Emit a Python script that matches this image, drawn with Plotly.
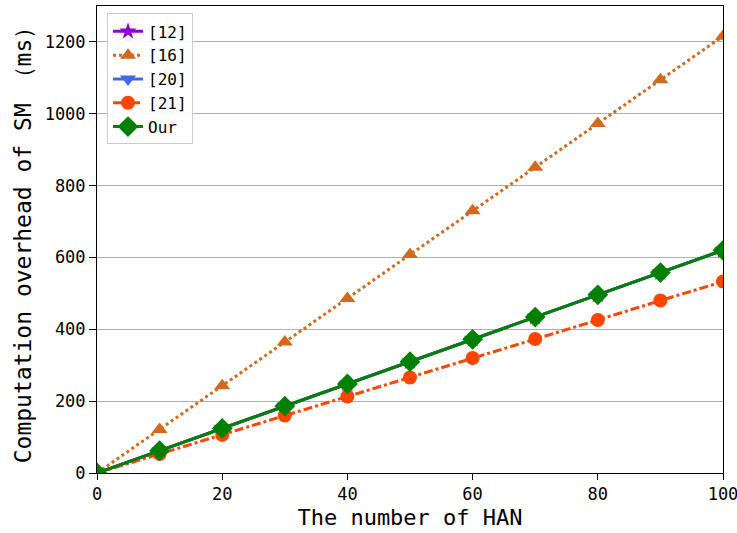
import plotly.graph_objects as go

x_han = [0, 10, 20, 30, 40, 50, 60, 70, 80, 90, 100]
ref12 = [0, 62, 124, 186, 248, 310, 372, 434, 496, 558, 620]
ref16 = [0, 121, 243, 365, 486, 608, 730, 851, 973, 1095, 1216]
ref20 = [0, 62, 124, 186, 248, 310, 372, 434, 496, 558, 620]
ref21 = [0, 53, 106, 160, 213, 266, 320, 373, 426, 480, 533]
ours = [0, 62, 124, 186, 248, 310, 372, 434, 496, 558, 620]

FONT = "DejaVu Sans Mono"

fig = go.Figure()
fig.add_trace(go.Scatter(x=x_han, y=ref12, name="[12]", mode="lines+markers",
                         line=dict(color="#9400D3", width=3),
                         marker=dict(symbol="star", size=13, color="#9400D3")))
fig.add_trace(go.Scatter(x=x_han, y=ref16, name="[16]", mode="lines+markers",
                         line=dict(color="#D2691E", width=3, dash="dot"),
                         marker=dict(symbol="triangle-up", size=14, color="#D2691E")))
fig.add_trace(go.Scatter(x=x_han, y=ref20, name="[20]", mode="lines+markers",
                         line=dict(color="#4169E1", width=3),
                         marker=dict(symbol="triangle-down", size=14, color="#4169E1")))
fig.add_trace(go.Scatter(x=x_han, y=ref21, name="[21]", mode="lines+markers",
                         line=dict(color="#FF4500", width=3, dash="dashdot"),
                         marker=dict(symbol="circle", size=14, color="#FF4500")))
fig.add_trace(go.Scatter(x=x_han, y=ours, name="Our", mode="lines+markers",
                         line=dict(color="#008000", width=3),
                         marker=dict(symbol="diamond", size=16, color="#008000")))

fig.update_layout(
    width=737, height=533,
    margin=dict(l=97, r=14, t=6, b=60),
    paper_bgcolor="white", plot_bgcolor="white",
    font=dict(family=FONT, size=17, color="black"),
    showlegend=True,
    legend=dict(x=0.016, y=0.984, xanchor="left", yanchor="top",
                bgcolor="rgba(255,255,255,0.9)", bordercolor="#cccccc", borderwidth=1,
                font=dict(family=FONT, size=16), tracegroupgap=0),
    xaxis=dict(range=[0, 100], tickvals=[0, 20, 40, 60, 80, 100],
               title=dict(text="The number of HAN", font=dict(size=22), standoff=6),
               showgrid=False, showline=True, linecolor="black", linewidth=1, mirror=True,
               ticks="outside", ticklen=6, tickcolor="black", zeroline=False,
               automargin=False, ticklabeloverflow="allow"),
    yaxis=dict(range=[0, 1300], tickvals=[0, 200, 400, 600, 800, 1000, 1200],
               title=dict(text="Computation overhead of SM （ms）", font=dict(size=23), standoff=6),
               showgrid=True, gridcolor="#b0b0b0", gridwidth=1,
               showline=True, linecolor="black", linewidth=1, mirror=True,
               ticks="outside", ticklen=7, tickcolor="black", zeroline=False,
               automargin=False),
)

fig.write_html("out.html", config={"displayModeBar": False},
               post_script="document.body.style.margin='0';document.body.style.overflow='hidden';")
